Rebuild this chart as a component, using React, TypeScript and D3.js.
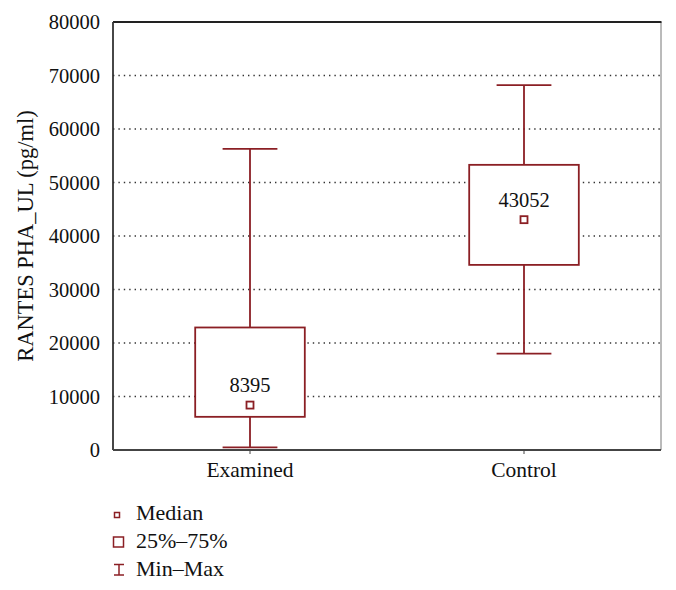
import React from "react";
import * as d3 from "d3";

const categories = ["Examined", "Control"];
const mins = [500, 18000];
const q1s = [6200, 34600];
const medians = [8395, 43052];
const q3s = [22900, 53300];
const maxs = [56300, 68200];
const yTicks = [0, 10000, 20000, 30000, 40000, 50000, 60000, 70000, 80000];
const legendLabels = ["Median", "25%\u201375%", "Min\u2013Max"];

const W = 676, H = 590;
const M = { left: 113, right: 661, top: 22, bottom: 450 };
const RED = "#8b1f24";
const FONT = "'Liberation Serif', 'Times New Roman', serif";

export default function App() {
  const y = d3.scaleLinear().domain([0, 80000]).range([M.bottom, M.top]);
  const x = d3.scaleBand().domain(categories).range([M.left, M.right]);
  const bw = x.bandwidth();
  const boxW = bw * 0.4;
  const capW = bw * 0.2;

  return (
    <svg width={W} height={H} style={{ position: "absolute", left: 0, top: 0, background: "#fff" }}>
      <rect x={0} y={0} width={W} height={H} fill="#fff" />
      {/* grid */}
      {yTicks.filter(t => t > 0 && t < 80000).map(t => (
        <line key={t} x1={M.left} x2={M.right} y1={y(t)} y2={y(t)} stroke="#333" strokeWidth={1.4} strokeDasharray="1.4 4" />
      ))}
      {/* frame */}
      <line x1={M.right} x2={M.right} y1={M.top} y2={M.bottom} stroke="#777" strokeWidth={1} />
      <line x1={M.left} x2={M.right + 0.5} y1={M.top} y2={M.top} stroke="#222" strokeWidth={1.8} />
      <line x1={M.left} x2={M.left} y1={M.top} y2={M.bottom} stroke="#333" strokeWidth={1.8} />
      <line x1={M.left} x2={M.right} y1={M.bottom} y2={M.bottom} stroke="#444" strokeWidth={1.8} />
      {/* y tick labels */}
      {yTicks.map(t => (
        <text key={t} x={M.left - 13} y={y(t)} dy="0.35em" textAnchor="end" fontFamily={FONT} fontSize={20.5} fill="#111">{t}</text>
      ))}
      {/* x ticks & labels */}
      {categories.map(c => {
        const cx = (x(c) as number) + bw / 2;
        return (
          <g key={c}>
            <line x1={cx} x2={cx} y1={M.bottom} y2={M.bottom + 4} stroke="#444" strokeWidth={1} />
            <text x={cx} y={477} textAnchor="middle" fontFamily={FONT} fontSize={21.5} fill="#111">{c}</text>
          </g>
        );
      })}
      {/* boxes */}
      {categories.map((c, i) => {
        const cx = (x(c) as number) + bw / 2;
        return (
          <g key={c} stroke={RED} strokeWidth={1.8} fill="none">
            <line x1={cx} x2={cx} y1={y(maxs[i])} y2={y(mins[i])} />
            <line x1={cx - capW / 2} x2={cx + capW / 2} y1={y(maxs[i])} y2={y(maxs[i])} />
            <line x1={cx - capW / 2} x2={cx + capW / 2} y1={y(mins[i])} y2={y(mins[i])} />
            <rect x={cx - boxW / 2} y={y(q3s[i])} width={boxW} height={y(q1s[i]) - y(q3s[i])} fill="#fff" />
            <rect x={cx - 3.5} y={y(medians[i]) - 3.5} width={7} height={7} fill="#fff" />
            <text x={cx} y={y(medians[i]) - 13} textAnchor="middle" stroke="none" fill="#111" fontFamily={FONT} fontSize={20.5}>{medians[i]}</text>
          </g>
        );
      })}
      {/* y label */}
      <text transform={`translate(33, ${(M.top + M.bottom) / 2}) rotate(-90)`} textAnchor="middle" fontFamily={FONT} fontSize={22.5} fill="#111">RANTES PHA_UL (pg/ml)</text>
      {/* legend */}
      <g fontFamily={FONT} fontSize={22} fill="#111">
        <rect x={114.5} y={512.5} width={5} height={5} fill="#fff" stroke={RED} strokeWidth={1.5} />
        <text x={136} y={520}>{legendLabels[0]}</text>
        <rect x={113.5} y={537} width={10} height={10} fill="#fff" stroke={RED} strokeWidth={1.5} />
        <text x={136} y={548}>{legendLabels[1]}</text>
        <g stroke={RED} strokeWidth={1.5}>
          <line x1={114} x2={124} y1={564.5} y2={564.5} />
          <line x1={114} x2={124} y1={575} y2={575} />
          <line x1={119} x2={119} y1={564.5} y2={575} />
        </g>
        <text x={136} y={576}>{legendLabels[2]}</text>
      </g>
    </svg>
  );
}
